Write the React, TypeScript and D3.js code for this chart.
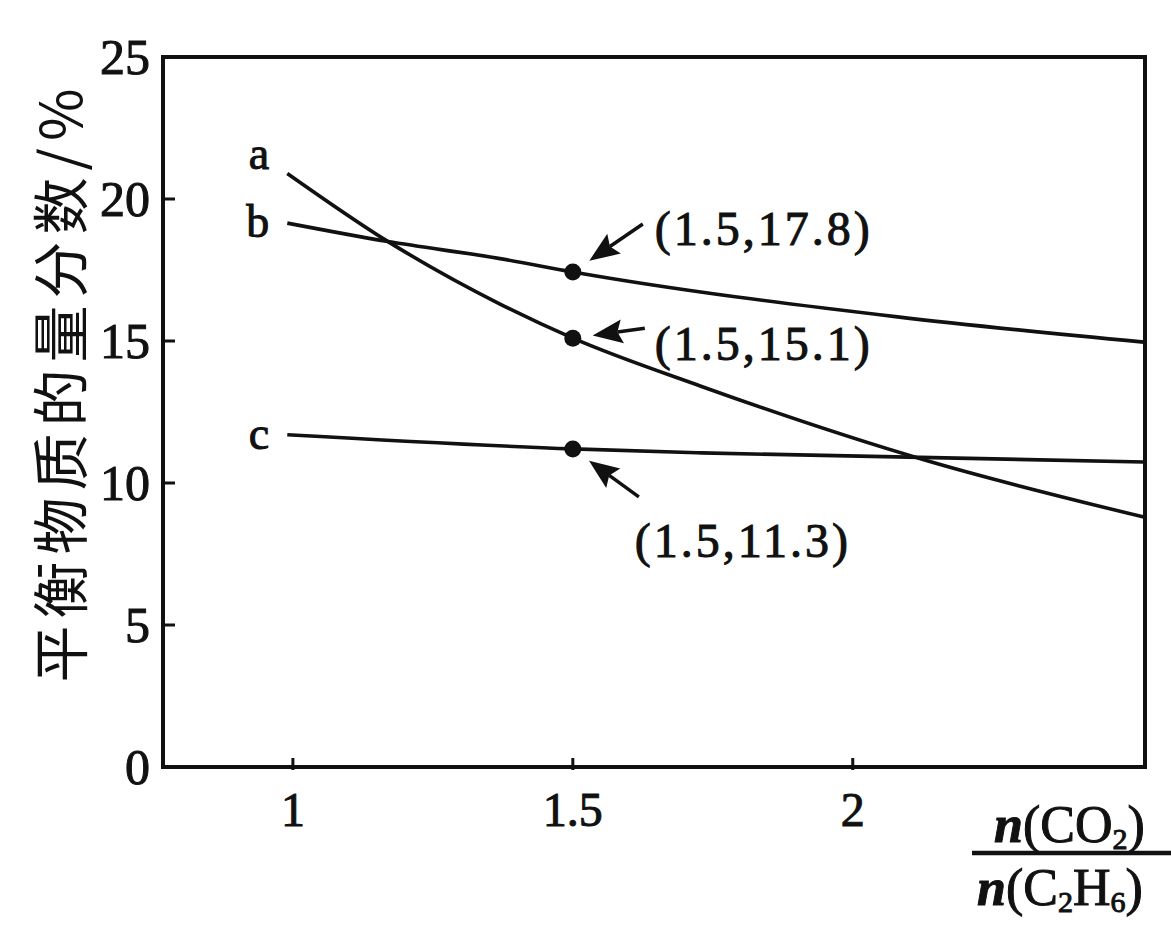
import React from 'react';
import * as d3 from 'd3';

// x = n(CO2)/n(C2H6), y = equilibrium mole fraction (%)
const curveA: [number, number][] = [[0.99, 20.9], [1.17, 18.5], [1.37, 16.3], [1.5, 15.1], [1.73, 13.4], [2.13, 10.8], [2.52, 8.8]];
const curveB: [number, number][] = [[0.99, 19.15], [1.17, 18.5], [1.37, 17.9], [1.5, 17.43], [2.08, 15.85], [2.52, 14.96]];
const curveC: [number, number][] = [[0.99, 11.7], [1.5, 11.2], [1.73, 11.06], [2.52, 10.74]];
const curveNames = ['a', 'b', 'c'];

const xTicks = [1, 1.5, 2];
const xTickLabels = ['1', '1.5', '2'];
const yTicks = [0, 5, 10, 15, 20, 25];

const markedPoints: [number, number][] = [[1.5, 17.43], [1.5, 15.1], [1.5, 11.2]];
const markedLabels = ['(1.5,17.8)', '(1.5,15.1)', '(1.5,11.3)'];

const W = 1171, H = 926;
const serif = '"Liberation Serif", "DejaVu Serif", serif';

export default function App() {
  const x = d3.scaleLinear().domain([0.768, 2.522]).range([163, 1145]);
  const y = d3.scaleLinear().domain([0, 25]).range([767, 57]);

  const line = d3.line<[number, number]>()
    .x(d => x(d[0]))
    .y(d => y(d[1]))
    .curve(d3.curveMonotoneX);

  const curves = [curveA, curveB, curveC];

  // label / arrow placement relative to each marked point
  const labelPos = [
    { dx: 82, dy: -27, ax: 70, ay: -48 },
    { dx: 82, dy: 22, ax: 72, ay: -10 },
    { dx: 62, dy: 108, ax: 66, ay: 48 },
  ];

  return (
    <svg width={W} height={H} style={{ position: 'absolute', left: 0, top: 0, background: '#fff' }}>
      {/* frame */}
      <rect x={x(0.768)} y={y(25)} width={x(2.522) - x(0.768)} height={y(0) - y(25)}
        fill="none" stroke="#111" strokeWidth={4} />

      {/* y ticks */}
      {yTicks.map(t => (
        <g key={'y' + t}>
          {t > 0 && t < 25 && <line x1={x(0.768)} x2={x(0.768) + 12} y1={y(t)} y2={y(t)} stroke="#111" strokeWidth={3} />}
          <text x={150} y={y(t) + 17} textAnchor="end" fontFamily={serif} fontSize={50} fill="#111"
            stroke="#111" strokeWidth={1}>{t}</text>
        </g>
      ))}

      {/* x ticks */}
      {xTicks.map((t, i) => (
        <g key={'x' + t}>
          <line x1={x(t)} x2={x(t)} y1={y(0) - 9} y2={y(0) + 3} stroke="#111" strokeWidth={3} />
          <text x={x(t)} y={826} textAnchor="middle" fontFamily={serif} fontSize={48} fill="#111"
            stroke="#111" strokeWidth={1}>{xTickLabels[i]}</text>
        </g>
      ))}

      {/* curves */}
      {curves.map((c, i) => (
        <g key={curveNames[i]}>
          <path d={line(c) || ''} fill="none" stroke="#111" strokeWidth={3.6} />
          <text x={x(c[0][0]) - 18} y={y(c[0][1]) + (i === 0 ? -4 : 14)} textAnchor="end"
            fontFamily={serif} fontSize={46} fill="#111" stroke="#111" strokeWidth={1}>{curveNames[i]}</text>
        </g>
      ))}

      {/* marked points with arrows and labels */}
      {markedPoints.map((p, i) => {
        const px = x(p[0]), py = y(p[1]);
        const L = labelPos[i];
        const len = Math.hypot(L.ax, L.ay);
        const ux = L.ax / len, uy = L.ay / len;
        const tipX = px + ux * 20, tipY = py + uy * 20;
        const bx = tipX + ux * 30, by = tipY + uy * 30;
        const head = `${tipX},${tipY} ${bx - uy * 12},${by + ux * 12} ${bx - ux * 5},${by - uy * 5} ${bx + uy * 12},${by - ux * 12}`;
        return (
          <g key={'m' + i}>
            <circle cx={px} cy={py} r={8.5} fill="#111" />
            <line x1={px + L.ax} y1={py + L.ay} x2={bx - ux * 5} y2={by - uy * 5} stroke="#111" strokeWidth={3.5} />
            <polygon points={head} fill="#111" />
            <text x={px + L.dx} y={py + L.dy} fontFamily={serif} fontSize={48} letterSpacing={3}
              fill="#111" stroke="#111" strokeWidth={1}>{markedLabels[i]}</text>
          </g>
        );
      })}

      {/* y axis title */}
      <text transform={`translate(82,382) rotate(-90)`} textAnchor="middle"
        fontFamily='"Noto Sans CJK SC", sans-serif' fontSize={57} letterSpacing={7} fill="#111">平衡物质的量分数/%</text>

      {/* x axis title as fraction */}
      <text x={994} y={842} fontFamily={serif} fontSize={52} fill="#111" stroke="#111" strokeWidth={1}>
        <tspan fontStyle="italic" fontWeight="bold">n</tspan>
        <tspan>(CO</tspan>
        <tspan fontSize={30} dy={7}>2</tspan>
        <tspan dy={-7}>)</tspan>
      </text>
      <line x1={972} x2={1171} y1={853} y2={853} stroke="#111" strokeWidth={4.5} />
      <text x={977} y={905} fontFamily={serif} fontSize={52} fill="#111" stroke="#111" strokeWidth={1}>
        <tspan fontStyle="italic" fontWeight="bold">n</tspan>
        <tspan>(C</tspan>
        <tspan fontSize={30} dy={7}>2</tspan>
        <tspan dy={-7}>H</tspan>
        <tspan fontSize={30} dy={7}>6</tspan>
        <tspan dy={-7}>)</tspan>
      </text>
    </svg>
  );
}
